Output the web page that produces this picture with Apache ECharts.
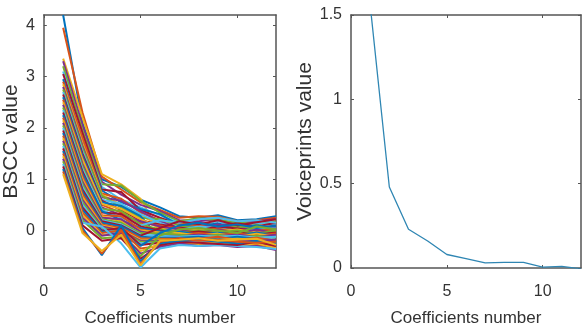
<!DOCTYPE html>
<html>
<head>
<meta charset="utf-8">
<script src="https://cdn.jsdelivr.net/npm/echarts@6/dist/echarts.min.js"></script>
<style>
  html, body { margin: 0; padding: 0; background: #fff; }
  #chart { width: 582px; height: 332px; }
</style>
</head>
<body>
<div id="chart"></div>
<script>
// coefficient index 1..12
const coefIdx = [1, 2, 3, 4, 5, 6, 7, 8, 9, 10, 11, 12];

// left panel: BSCC curves, one row per frame
const bsccRows = [
  [4.20, 2.10, 1.00, 0.85, 0.60, 0.45, 0.28, 0.25, 0.30, 0.20, 0.22, 0.28],
  [3.95, 2.30, 1.05, 0.80, 0.55, 0.40, 0.25, 0.28, 0.27, 0.18, 0.20, 0.25],
  [3.35, 2.20, 1.10, 0.90, 0.62, -0.05, -0.10, -0.05, -0.12, -0.08, -0.10, -0.06],
  [3.30, 2.05, 0.95, 0.70, 0.50, 0.38, 0.20, 0.18, 0.22, 0.12, 0.18, 0.22],
  [3.20, 1.95, 0.90, 0.88, 0.58, 0.35, 0.18, 0.24, 0.20, 0.16, 0.12, 0.18],
  [3.10, 1.85, 0.85, 0.60, 0.45, 0.30, 0.15, 0.12, 0.18, 0.08, 0.15, 0.12],
  [3.05, 1.90, 0.80, 0.75, 0.40, 0.25, 0.12, 0.15, 0.10, 0.14, 0.08, 0.15],
  [2.95, 1.75, 0.78, 0.55, 0.42, 0.32, 0.10, 0.08, 0.14, 0.05, 0.10, 0.06],
  [2.90, 1.80, 0.72, 0.62, 0.35, 0.20, 0.14, 0.10, 0.06, 0.10, 0.04, 0.10],
  [2.85, 1.70, 0.70, 0.50, 0.30, 0.10, -0.15, -0.20, -0.12, -0.22, -0.18, -0.25],
  [2.80, 1.65, 0.65, 0.58, 0.38, 0.18, 0.05, 0.06, 0.12, 0.06, 0.02, 0.08],
  [2.75, 1.60, 0.68, 0.45, 0.25, 0.22, 0.10, 0.04, 0.02, 0.08, 0.06, 0.00],
  [2.70, 1.55, 0.60, 0.52, 0.32, 0.15, 0.02, 0.08, 0.05, -0.02, 0.04, 0.04],
  [2.65, 1.50, 0.58, 0.40, 0.20, 0.12, 0.06, 0.00, 0.08, 0.04, -0.02, 0.02],
  [2.60, 1.45, 0.55, 0.48, 0.28, -0.15, -0.25, -0.20, -0.28, -0.22, -0.30, -0.20],
  [2.55, 1.40, 0.50, 0.35, 0.15, 0.10, 0.04, -0.02, 0.04, -0.04, 0.00, 0.02],
  [2.50, 1.38, 0.52, 0.42, 0.22, 0.05, -0.02, 0.02, -0.02, 0.02, -0.04, -0.02],
  [2.45, 1.30, 0.45, 0.30, 0.18, 0.08, 0.02, -0.04, 0.02, -0.06, 0.02, -0.06],
  [2.40, 1.25, 0.42, 0.38, 0.12, 0.02, -0.04, 0.00, -0.04, 0.00, -0.06, 0.00],
  [2.35, 1.20, 0.40, 0.25, 0.10, 0.20, 0.15, 0.22, 0.25, 0.18, 0.20, 0.15],
  [2.30, 1.15, 0.35, 0.32, 0.08, 0.00, -0.06, -0.02, -0.06, -0.04, -0.08, -0.04],
  [2.25, 1.10, 0.38, 0.20, 0.05, -0.02, -0.02, -0.08, -0.04, -0.10, -0.04, -0.10],
  [2.20, 1.05, 0.30, 0.28, 0.02, -0.05, -0.08, -0.05, -0.08, -0.06, -0.10, -0.06],
  [2.15, 1.00, 0.28, 0.18, 0.00, -0.04, -0.05, -0.10, -0.06, -0.12, -0.06, -0.12],
  [2.10, 0.95, 0.25, 0.22, -0.02, -0.08, -0.10, -0.08, -0.10, -0.08, -0.12, -0.08],
  [2.05, 0.90, 0.22, 0.15, -0.05, -0.06, -0.08, -0.12, -0.08, -0.14, -0.10, -0.14],
  [2.00, 0.85, 0.20, 0.12, -0.08, -0.10, -0.12, -0.10, -0.12, -0.10, -0.14, -0.12],
  [1.95, 0.80, 0.18, 0.10, -0.10, 0.05, 0.18, 0.12, 0.20, 0.10, 0.16, 0.22],
  [1.90, 0.75, 0.15, 0.08, -0.12, -0.14, -0.14, -0.12, -0.16, -0.12, -0.16, -0.18],
  [1.85, 0.70, 0.12, 0.05, -0.15, -0.16, -0.16, -0.16, -0.12, -0.18, -0.14, -0.20],
  [1.80, 0.65, 0.10, 0.02, -0.18, -0.18, -0.18, -0.18, -0.18, -0.16, -0.18, -0.22],
  [1.75, 0.60, 0.08, 0.00, -0.20, -0.20, -0.20, -0.15, -0.20, -0.20, -0.20, -0.18],
  [1.70, 0.55, 0.05, -0.02, -0.22, -0.22, -0.22, -0.20, -0.22, -0.22, -0.24, -0.24],
  [1.65, 0.50, 0.02, -0.05, -0.25, -0.25, -0.18, -0.22, -0.18, -0.24, -0.22, -0.26],
  [1.60, 0.45, 0.00, 0.05, -0.28, -0.24, -0.24, -0.25, -0.24, -0.20, -0.26, -0.28],
  [1.55, 0.40, -0.02, -0.08, -0.30, -0.05, 0.10, 0.15, 0.08, 0.12, 0.05, 0.10],
  [1.50, 0.35, -0.05, 0.00, -0.35, -0.30, -0.22, -0.28, -0.28, -0.26, -0.28, -0.32],
  [1.45, 0.30, -0.08, -0.10, -0.40, -0.26, -0.28, -0.26, -0.22, -0.30, -0.25, -0.34],
  [1.40, 0.25, -0.10, -0.05, -0.45, -0.32, -0.25, -0.30, -0.28, -0.32, -0.30, -0.38],
  [1.35, 0.20, -0.15, -0.12, -0.50, -0.10, 0.02, 0.05, 0.00, -0.05, 0.08, 0.02],
  [1.30, 0.15, 0.08, -0.25, -0.72, -0.35, -0.28, -0.30, -0.28, -0.30, -0.32, -0.36],
  [1.25, 0.10, -0.20, -0.15, -0.55, -0.28, -0.22, -0.24, -0.26, -0.28, -0.22, -0.30],
  [1.20, 0.05, -0.48, 0.10, -0.60, -0.25, -0.20, -0.18, -0.22, -0.25, -0.20, -0.25],
  [1.15, 0.00, -0.45, 0.00, -0.65, -0.22, -0.15, -0.20, -0.18, -0.22, -0.24, -0.22],
  [1.10, -0.05, -0.40, -0.08, -0.68, -0.20, -0.18, -0.15, -0.20, -0.18, -0.16, -0.28]
];

// right panel: voiceprint (mean) curve
const voiceprint = [1.56, 0.48, 0.23, 0.16, 0.08, 0.055, 0.03, 0.033, 0.033, 0.005, 0.01, -0.005];

const coefTicks = [0, 5, 10];
const bsccTicks = [0, 1, 2, 3, 4];
const matlabColors = ['#0072BD', '#D95319', '#EDB120', '#7E2F8E', '#77AC30', '#4DBEEE', '#A2142F'];

const frame = '#555';
const txt = '#333';
const font = "'Liberation Sans', Arial, sans-serif";

const chart = echarts.init(document.getElementById('chart'));

function xAx(grid, pos, withText) {
  return {
    type: 'value', gridIndex: grid, position: pos, min: 0, max: 12,
    name: withText ? 'Coefficients number' : '',
    nameLocation: 'middle', nameGap: 42,
    nameTextStyle: { color: txt, fontSize: 17, fontFamily: font },
    axisLine: { show: true, onZero: false, lineStyle: { color: frame, width: 1.5 } },
    axisTick: { show: true, inside: true, length: 3, lineStyle: { color: frame }, customValues: coefTicks },
    axisLabel: { show: withText, color: txt, fontSize: 16, fontFamily: font, margin: 16, customValues: coefTicks },
    splitLine: { show: false }
  };
}

function yAx(grid, pos, withText, extra) {
  return Object.assign({
    type: 'value', gridIndex: grid, position: pos,
    nameLocation: 'middle',
    nameTextStyle: { color: txt, fontSize: 21, fontFamily: font },
    axisLine: { show: true, onZero: false, lineStyle: { color: frame, width: 1.5 } },
    axisTick: { show: true, inside: true, length: 3, lineStyle: { color: frame } },
    axisLabel: { show: withText, color: txt, fontSize: 16, fontFamily: font, margin: 9 },
    splitLine: { show: false }
  }, extra);
}

const leftY = {
  min: -0.73, max: 4.2,
  axisTick: { show: true, inside: true, length: 3, lineStyle: { color: frame }, customValues: bsccTicks },
};

const series = bsccRows.map((row, i) => ({
  type: 'line', xAxisIndex: 0, yAxisIndex: 0,
  data: coefIdx.map((c, j) => [c, row[j]]),
  showSymbol: false, silent: true, animation: false,
  lineStyle: { color: matlabColors[i % matlabColors.length], width: 2 }
}));

series.push({
  type: 'line', xAxisIndex: 2, yAxisIndex: 2,
  data: coefIdx.map((c, j) => [c, voiceprint[j]]),
  showSymbol: false, silent: true, animation: false,
  lineStyle: { color: '#2f86b3', width: 1.3 }
});

chart.setOption({
  backgroundColor: '#fff',
  animation: false,
  grid: [
    { left: 43, top: 15, width: 233, height: 254 },
    { left: 351, top: 15, width: 230, height: 254 }
  ],
  xAxis: [xAx(0, 'bottom', true), xAx(0, 'top', false), xAx(1, 'bottom', true), xAx(1, 'top', false)],
  yAxis: [
    yAx(0, 'left', true, Object.assign({ name: 'BSCC value', nameGap: 19 }, leftY, {
      axisLabel: { show: true, color: txt, fontSize: 16, fontFamily: font, margin: 9, customValues: bsccTicks }
    })),
    yAx(0, 'right', false, leftY),
    yAx(1, 'left', true, { name: 'Voiceprints value', nameGap: 22, min: 0, max: 1.5, interval: 0.5 }),
    yAx(1, 'right', false, { min: 0, max: 1.5, interval: 0.5 })
  ],
  series: series
});
</script>
</body>
</html>
